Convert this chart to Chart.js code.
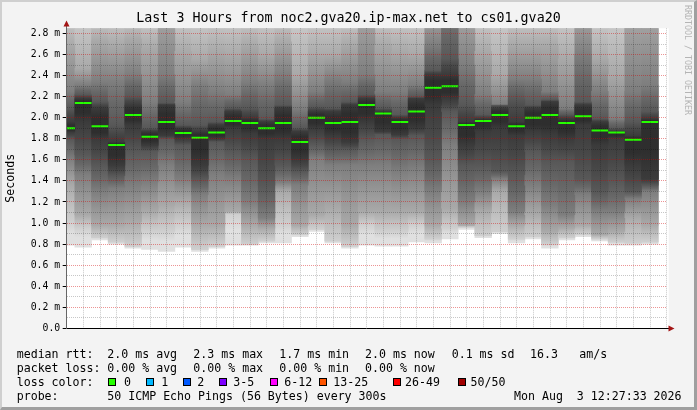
<!DOCTYPE html>
<html>
<head>
<meta charset="utf-8">
<script src="https://cdn.jsdelivr.net/npm/chart.js@4.4.1/dist/chart.umd.min.js"></script>
<style>
  body { margin: 0; background: #fff; }
  #wrap { position: relative; width: 697px; height: 410px; background: #f3f3f3; overflow: hidden; }
  #frame { position: absolute; left: 0; top: 0; width: 697px; height: 410px; box-sizing: border-box;
           border-style: solid; border-width: 2px 3px 3px 2px; border-color: #cfcfcf #9f9f9f #9f9f9f #cfcfcf; }
  canvas { position: absolute; left: 0; top: 0; }
  .lg { position: absolute; font-family: 'DejaVu Sans Mono', monospace; font-size: 11.6px; line-height: 14px;
        white-space: pre; color: #000; }
  .box { position: absolute; top: 378px; width: 6px; height: 6px; border: 1px solid #000; }
  #wm { position: absolute; left: 683px; top: 5px; writing-mode: vertical-rl; font-family: 'DejaVu Sans Mono', monospace;
        font-size: 8.3px; line-height: 10px; color: #b4b4b4; white-space: pre; }
</style>
</head>
<body>
<div id="wrap">
  <div id="frame"></div>
  <canvas id="smokeChart" width="697" height="410"></canvas>
  <div id="wm">RRDTOOL / TOBI OETIKER</div>

  <div class="lg" style="left:16.7px;top:347.3px">median rtt:</div>
  <div class="lg" style="left:107.3px;top:347.3px">2.0 ms avg</div>
  <div class="lg" style="left:193.3px;top:347.3px">2.3 ms max</div>
  <div class="lg" style="left:279.3px;top:347.3px">1.7 ms min</div>
  <div class="lg" style="left:365px;top:347.3px">2.0 ms now</div>
  <div class="lg" style="left:451.7px;top:347.3px">0.1 ms sd</div>
  <div class="lg" style="left:530px;top:347.3px">16.3</div>
  <div class="lg" style="left:579.3px;top:347.3px">am/s</div>

  <div class="lg" style="left:16.7px;top:361.2px">packet loss:</div>
  <div class="lg" style="left:107.3px;top:361.2px">0.00 % avg</div>
  <div class="lg" style="left:193.3px;top:361.2px">0.00 % max</div>
  <div class="lg" style="left:279.3px;top:361.2px">0.00 % min</div>
  <div class="lg" style="left:365px;top:361.2px">0.00 % now</div>

  <div class="lg" style="left:16.7px;top:375px">loss color:</div>
  <div id="lossRow"></div>

  <div class="lg" style="left:16.7px;top:388.9px">probe:</div>
  <div class="lg" style="left:107.3px;top:388.9px">50 ICMP Echo Pings (56 Bytes) every 300s</div>
  <div class="lg" style="left:514px;top:388.9px">Mon Aug  3 12:27:33 2026</div>
</div>
<script>
const FONT = "'DejaVu Sans Mono', monospace";

// 5 minute steps (end time of each step), the first one is only partly inside the window
const steps = ['09:30', '09:35', '09:40', '09:45', '09:50', '09:55', '10:00', '10:05', '10:10', '10:15',
               '10:20', '10:25', '10:30', '10:35', '10:40', '10:45', '10:50', '10:55', '11:00', '11:05',
               '11:10', '11:15', '11:20', '11:25', '11:30', '11:35', '11:40', '11:45', '11:50', '11:55',
               '12:00', '12:05', '12:10', '12:15', '12:20', '12:25'];

// median rtt (ms)
const median = [1.90, 2.14, 1.92, 1.74, 2.025, 1.82, 1.96, 1.855, 1.81, 1.86,
                1.97, 1.95, 1.90, 1.95, 1.77, 2.00, 1.95, 1.96, 2.12, 2.04,
                1.96, 2.06, 2.285, 2.30, 1.93, 1.97, 2.025, 1.92, 2.00, 2.025,
                1.95, 2.015, 1.88, 1.86, 1.79, 1.96];

// smoke: lower / upper edges of each band, outer (lightest) to inner (darkest), ms
const minRtt = [0.79, 0.77, 0.84, 0.80, 0.76, 0.75, 0.73, 0.77, 0.73, 0.76,
                0.79, 0.79, 0.81, 0.81, 0.87, 0.92, 0.81, 0.76, 0.79, 0.78,
                0.78, 0.82, 0.81, 0.85, 0.94, 0.86, 0.90, 0.81, 0.85, 0.76,
                0.84, 0.87, 0.83, 0.79, 0.79, 0.80];
const maxRtt = [3.0, 3.0, 3.0, 3.0, 3.0, 3.0, 3.0, 3.0, 3.0, 3.0,
                3.0, 3.0, 3.0, 3.0, 3.0, 3.0, 3.0, 3.0, 3.0, 3.0,
                3.0, 3.0, 3.0, 3.0, 3.0, 3.0, 3.0, 3.0, 3.0, 3.0,
                3.0, 3.0, 3.0, 3.0, 3.0, 3.0];
const lo2 = [1.01, 0.95, 0.86, 0.82, 0.78, 0.92, 0.92, 0.98, 0.75, 0.78,
             1.08, 0.80, 0.83, 0.98, 0.89, 0.94, 0.83, 0.78, 0.98, 0.92,
             0.92, 0.98, 0.85, 0.95, 0.96, 0.88, 0.92, 0.85, 0.87, 0.80,
             0.86, 0.89, 0.85, 0.82, 0.81, 0.82];
const lo3 = [1.36, 1.08, 0.98, 0.98, 1.01, 1.11, 1.17, 1.20, 0.98, 0.98,
             1.11, 0.98, 0.95, 1.30, 0.98, 1.08, 1.14, 0.98, 1.11, 1.11,
             1.11, 1.11, 0.98, 1.14, 0.98, 1.11, 1.30, 0.98, 1.08, 0.92,
             0.95, 0.98, 0.89, 0.92, 1.05, 0.98];
const lo4 = [1.61, 1.46, 1.30, 1.33, 1.36, 1.39, 1.55, 1.42, 1.27, 1.46,
             1.42, 1.20, 1.05, 1.39, 1.36, 1.61, 1.55, 1.55, 1.55, 1.55,
             1.49, 1.52, 1.30, 1.74, 1.20, 1.30, 1.42, 1.11, 1.36, 1.17,
             1.08, 1.27, 1.11, 1.11, 1.23, 1.30];
const lo5 = [1.80, 1.65, 1.55, 1.45, 1.68, 1.68, 1.80, 1.74, 1.42, 1.77,
             1.68, 1.61, 1.36, 1.55, 1.49, 1.75, 1.70, 1.70, 1.80, 1.84,
             1.80, 1.83, 1.61, 2.06, 1.55, 1.55, 1.49, 1.46, 1.68, 1.58,
             1.58, 1.42, 1.30, 1.39, 1.30, 1.36];
const lo6 = [1.86, 1.96, 1.80, 1.55, 1.93, 1.74, 1.83, 1.80, 1.55, 1.80,
             1.90, 1.85, 1.80, 1.80, 1.60, 1.90, 1.83, 1.77, 1.96, 1.87,
             1.84, 1.90, 2.12, 2.18, 1.74, 1.87, 1.90, 1.83, 1.87, 1.84,
             1.80, 1.93, 1.74, 1.80, 1.55, 1.42];
const hi6 = [1.96, 2.18, 2.09, 1.77, 2.12, 1.87, 2.12, 1.90, 1.87, 1.93,
             2.06, 2.00, 1.96, 2.09, 1.87, 2.06, 2.06, 2.12, 2.18, 2.06,
             2.00, 2.18, 2.41, 2.41, 1.96, 1.99, 2.09, 1.96, 2.09, 2.15,
             1.99, 2.12, 1.96, 1.87, 1.83, 1.99];
const hi5 = [2.09, 2.22, 2.15, 1.93, 2.20, 1.90, 2.14, 1.93, 1.93, 1.96,
             2.09, 2.09, 1.99, 2.12, 1.90, 2.10, 2.09, 2.15, 2.22, 2.09,
             2.03, 2.20, 2.45, 2.56, 2.12, 2.03, 2.12, 2.18, 2.12, 2.17,
             2.03, 2.15, 1.99, 1.90, 1.96, 2.06];
const hi4 = [2.25, 2.31, 2.34, 2.34, 2.41, 2.15, 2.41, 2.15, 2.31, 2.25,
             2.22, 2.34, 2.31, 2.41, 2.09, 2.25, 2.37, 2.34, 2.41, 2.25,
             2.25, 2.31, 2.69, 3.00, 2.50, 2.22, 2.12, 2.37, 2.37, 2.25,
             2.09, 2.60, 2.25, 1.99, 2.25, 2.31];
const hi3 = [2.69, 2.47, 2.73, 2.69, 2.75, 2.66, 3.00, 2.63, 2.56, 2.63,
             2.60, 2.69, 2.60, 2.72, 2.41, 2.60, 2.60, 2.69, 3.00, 2.69,
             2.63, 2.60, 3.00, 3.00, 3.00, 2.63, 2.41, 2.69, 2.69, 2.69,
             2.56, 3.00, 2.56, 2.41, 3.00, 3.00];

const yTicks = ['0.0', '0.2 m', '0.4 m', '0.6 m', '0.8 m', '1.0 m', '1.2 m', '1.4 m',
                '1.6 m', '1.8 m', '2.0 m', '2.2 m', '2.4 m', '2.6 m', '2.8 m'];

const lossLabels = ['0', '1', '2', '3-5', '6-12', '13-25', '26-49', '50/50'];
const lossColors = ['#26ff00', '#00b8ff', '#0059ff', '#7e00ff', '#ff00ff', '#ff5500', '#ff0000', '#a10000'];

// loss colour legend row
const boxX = [108.3, 145.7, 182.7, 219.3, 270, 319.3, 393.3, 458.3];
const boxTextX = [124, 161.3, 197.3, 233.3, 284.3, 333.3, 405, 470.5];
const lossRow = document.getElementById('lossRow');
lossLabels.forEach((lbl, i) => {
    const b = document.createElement('div');
    b.className = 'box';
    b.style.left = boxX[i] + 'px';
    b.style.background = lossColors[i];
    lossRow.appendChild(b);
    const t = document.createElement('div');
    t.className = 'lg';
    t.style.left = boxTextX[i] + 'px';
    t.style.top = '375px';
    t.textContent = lbl;
    lossRow.appendChild(t);
});

function toMin(hhmm) {
    const [h, m] = hhmm.split(':').map(Number);
    return h * 60 + m;
}
const centres = steps.map(s => toMin(s) - 2.5);

function band(lo, hi) {
    return centres.map((x, i) => ({ x: x, y: [lo[i], hi[i]] }));
}

const smokeBands = [
    { lo: minRtt, hi: maxRtt, color: '#e0e0e0' },
    { lo: lo2, hi: maxRtt, color: '#bdbdbd' },
    { lo: lo3, hi: hi3, color: '#949494' },
    { lo: lo4, hi: hi4, color: '#686868' },
    { lo: lo5, hi: hi5, color: '#474747' },
    { lo: lo6, hi: hi6, color: '#2e2e2e' }
];

function mix(a, b) {
    const pa = parseInt(a.slice(1), 16), pb = parseInt(b.slice(1), 16);
    const ch = s => Math.round((((pa >> s) & 255) + ((pb >> s) & 255)) / 2);
    return 'rgb(' + ch(16) + ',' + ch(8) + ',' + ch(0) + ')';
}

// soften band edges: half-way colour on each boundary, own colour inside
function smokeFill(i) {
    return c => {
        const b = smokeBands[i];
        if (c.type !== 'data' || !c.chart.chartArea) return b.color;
        const k = c.dataIndex;
        const y = c.chart.scales.y;
        const lo = b.lo[k], hi = b.hi[k];
        const inner = smokeBands[i + 1];
        const inLo = inner ? inner.lo[k] : median[k];
        const inHi = inner ? inner.hi[k] : median[k];
        const y0 = y.getPixelForValue(lo), y1 = y.getPixelForValue(hi);
        if (Math.abs(y0 - y1) < 1) return b.color;
        const edge = i === 0 ? b.color : mix(smokeBands[i - 1].color, b.color);
        const innerEdge = inner ? mix(b.color, inner.color) : b.color;
        const t = v => Math.min(Math.max((v - lo) / (hi - lo), 0), 1);
        const stops = [
            [t(lo), edge],
            [t((lo + inLo) / 2), b.color],
            [t(inLo), innerEdge],
            [t(inHi), innerEdge],
            [t((inHi + hi) / 2), b.color],
            [t(hi), edge]
        ];
        const g = c.chart.ctx.createLinearGradient(0, y0, 0, y1);
        let last = 0;
        stops.forEach(([p, col]) => {
            last = Math.max(last, p);
            g.addColorStop(last, col);
        });
        return g;
    };
}

const datasets = [{
    type: 'line',
    xAxisID: 'x',
    yAxisID: 'y',
    data: centres.map((x, i) => ({ x: x, y: median[i] })),
    showLine: false,
    pointStyle: 'line',
    pointRadius: 8.33,
    pointHoverRadius: 8.33,
    pointBorderWidth: 2,
    pointBorderColor: '#26ff00',
    clip: 0,
    order: 0
}];
smokeBands.forEach((b, i) => {
    datasets.push({
        xAxisID: 'x',
        yAxisID: 'y',
        data: band(b.lo, b.hi),
        backgroundColor: smokeFill(i),
        borderWidth: 0,
        barPercentage: 1,
        categoryPercentage: 1,
        grouped: false,
        order: 10 - i
    });
});

const startMin = toMin('09:27') + 33 / 60;
const endMin = startMin + 180;

// translucent grid, drawn over the smoke like rrdtool does
const gridMinor = 'rgba(0,0,0,0.22)';
const gridMajor = 'rgba(210,0,0,0.42)';

const plotFrame = {
    id: 'plotFrame',
    beforeDraw(chart) {
        const { ctx, chartArea: a } = chart;
        ctx.save();
        ctx.fillStyle = '#ffffff';
        ctx.fillRect(a.left, a.top, a.right - a.left + 2, a.bottom - a.top);
        ctx.restore();
    },
    afterDraw(chart) {
        const { ctx, chartArea: a } = chart;
        const ax = Math.round(a.left - 0.5) + 0.5;
        const ay = Math.round(a.bottom - 0.5) + 0.5;
        ctx.save();
        ctx.lineWidth = 1;
        ctx.strokeStyle = '#666';
        ctx.beginPath();
        ctx.moveTo(ax, a.top);
        ctx.lineTo(ax, 25);
        ctx.stroke();
        ctx.strokeStyle = '#000';
        ctx.beginPath();
        ctx.moveTo(a.right, ay);
        ctx.lineTo(669, ay);
        ctx.stroke();
        ctx.fillStyle = '#a31515';
        ctx.beginPath();
        ctx.moveTo(ax, 20.5);
        ctx.lineTo(ax - 3, 26.5);
        ctx.lineTo(ax + 3, 26.5);
        ctx.closePath();
        ctx.fill();
        ctx.beginPath();
        ctx.moveTo(674.5, ay);
        ctx.lineTo(668.5, ay - 3);
        ctx.lineTo(668.5, ay + 3);
        ctx.closePath();
        ctx.fill();
        ctx.restore();
    }
};

const ctx = document.getElementById('smokeChart').getContext('2d');
const smokeChart = new Chart(ctx, {
    type: 'bar',
    data: { datasets: datasets },
    plugins: [plotFrame],
    options: {
        responsive: false,
        animation: false,
        devicePixelRatio: 1,
        layout: { padding: { left: 0, right: 0, top: 0, bottom: 61.7 } },
        plugins: {
            legend: { display: false },
            tooltip: { enabled: false },
            title: {
                display: true,
                text: 'Last 3 Hours from noc2.gva20.ip-max.net to cs01.gva20',
                color: '#000',
                font: { family: FONT, size: 13.3, weight: 'normal' },
                padding: { top: 10.5, bottom: 1.8 }
            }
        },
        scales: {
            x: {
                type: 'linear',
                min: startMin,
                max: endMin,
                offset: false,
                grid: {
                    z: 1,
                    offset: false,
                    color: c => (c.tick && c.tick.value % 20 === 0) ? gridMajor : gridMinor,
                    tickColor: c => (c.tick && c.tick.value % 20 === 0) ? '#000' : 'rgba(0,0,0,0)',
                    tickLength: 3
                },
                border: { z: 2, color: '#000', dash: [1, 1] },
                ticks: {
                    z: 1,
                    stepSize: 5,
                    includeBounds: false,
                    autoSkip: false,
                    maxRotation: 0,
                    minRotation: 0,
                    padding: 1,
                    color: '#000',
                    font: { family: FONT, size: 9.8 },
                    callback: v => {
                        if (v % 20 !== 0) return '';
                        const h = Math.floor(v / 60), m = v % 60;
                        return String(h).padStart(2, '0') + ':' + String(m).padStart(2, '0');
                    }
                },
                afterFit: s => { s.height = 20; }
            },
            y: {
                type: 'linear',
                position: 'left',
                min: 0,
                max: 2.85,
                grid: {
                    z: 1,
                    color: c => (c.tick && Math.round(c.tick.value * 10) % 2 === 0) ? gridMajor : gridMinor,
                    tickColor: c => (c.tick && Math.round(c.tick.value * 10) % 2 === 0) ? '#000' : 'rgba(0,0,0,0)',
                    tickLength: 4
                },
                border: { z: 2, color: '#666', dash: [1, 1] },
                ticks: {
                    z: 1,
                    stepSize: 0.1,
                    includeBounds: false,
                    autoSkip: false,
                    padding: 2.5,
                    color: '#000',
                    font: { family: FONT, size: 9.8 },
                    callback: v => {
                        const k = Math.round(v * 10);
                        return k % 2 === 0 ? yTicks[k / 2] : '';
                    }
                },
                title: {
                    display: true,
                    text: 'Seconds',
                    color: '#000',
                    font: { family: FONT, size: 11.6 },
                    padding: { top: 4.4, bottom: 0 }
                },
                afterFit: s => { s.width = 66.7; }
            },
            // empty right margin so the title is centred on the whole image
            yR: {
                type: 'linear',
                position: 'right',
                grid: { display: false, drawTicks: false },
                border: { display: false },
                ticks: { display: false },
                afterFit: s => { s.width = 30.3; }
            }
        }
    }
});
</script>
</body>
</html>
